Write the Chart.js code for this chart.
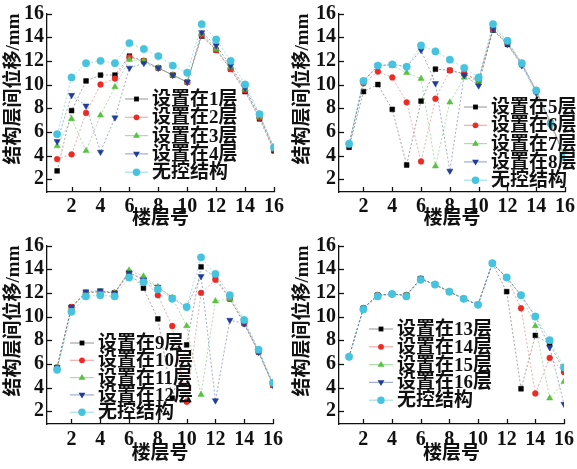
<!DOCTYPE html>
<html><head><meta charset="utf-8">
<script src="https://cdn.jsdelivr.net/npm/chart.js@4/dist/chart.umd.min.js"></script>
<style>
html,body{margin:0;padding:0;background:#fff;overflow:hidden;width:577px;height:469px;}
.p{position:absolute;}
</style></head><body>
<div class="p" style="left:0;top:0;width:288px;height:232px"><canvas id="c1" width="288" height="232"></canvas></div>
<div class="p" style="left:289px;top:0;width:290px;height:232px"><canvas id="c2" width="290" height="232"></canvas></div>
<div class="p" style="left:0;top:232px;width:288px;height:237px"><canvas id="c3" width="288" height="237"></canvas></div>
<div class="p" style="left:289px;top:232px;width:290px;height:237px"><canvas id="c4" width="290" height="237"></canvas></div>
<script>
// ---------- data ----------
const floors = [1,2,3,4,5,6,7,8,9,10,11,12,13,14,15,16];
const xTicks = [2,4,6,8,10,12,14,16];
const yTicks = [2,4,6,8,10,12,14,16];
const xTitle = '楼层号';
const yTitle = '结构层间位移/mm';
const noneLabel = '无控结构';

const p1Labels = ['设置在1层','设置在2层','设置在3层','设置在4层'];
const p1_layer1 = [2.7,7.8,10.3,10.8,10.8,12.4,12.0,11.4,10.8,10.2,14.1,12.9,11.3,9.4,7.1,4.4];
const p1_layer2 = [3.7,4.1,7.6,10.0,10.5,12.3,12.0,11.4,10.8,10.2,14.2,12.9,11.3,9.5,7.2,4.5];
const p1_layer3 = [4.8,7.1,4.4,7.4,9.8,12.1,12.0,11.4,10.8,10.2,14.3,13.0,11.5,9.6,7.3,4.6];
const p1_layer4 = [5.2,9.1,8.2,4.3,7.2,11.4,11.8,11.4,10.8,10.2,14.4,13.3,11.6,9.7,7.4,4.6];
const p1_none   = [5.8,10.6,11.8,12.0,11.8,13.5,13.0,12.4,11.6,11.0,15.1,13.8,12.0,10.0,7.5,4.7];

const p2Labels = ['设置在5层','设置在6层','设置在7层','设置在8层'];
const p2_layer5 = [4.7,9.4,10.0,7.9,3.2,8.6,11.3,11.2,10.9,10.3,14.6,13.4,11.7,9.4,6.8,3.8];
const p2_layer6 = [4.9,10.1,11.1,10.6,8.5,3.5,8.8,11.2,10.9,10.4,14.7,13.5,11.8,9.5,6.8,3.9];
const p2_layer7 = [4.9,10.2,11.6,11.6,11.0,10.5,3.1,8.5,10.6,10.3,14.9,13.6,11.8,9.5,6.8,3.9];
const p2_layer8 = [4.9,10.3,11.6,11.7,11.5,12.9,10.1,2.7,10.8,9.9,14.7,13.4,11.6,9.3,6.6,3.8];
const p2_none   = [5.0,10.3,11.6,11.7,11.5,13.3,12.8,12.1,11.4,10.6,15.1,13.7,11.8,9.5,6.7,3.9];

const p3Labels = ['设置在9层','设置在10层','设置在11层','设置在12层'];
const p3_layer9  = [5.7,10.8,12.0,12.1,12.0,13.7,12.4,9.8,3.1,7.6,14.2,13.3,11.5,9.4,7.0,4.2];
const p3_layer10 = [5.7,10.8,12.0,12.1,12.0,13.7,13.2,11.8,9.2,2.8,12.0,13.1,11.5,9.4,7.0,4.2];
const p3_layer11 = [5.7,10.7,12.0,12.1,12.0,13.9,13.4,12.5,11.6,9.2,3.4,11.3,11.5,9.6,7.1,4.3];
const p3_layer12 = [5.7,10.8,12.1,12.2,12.0,13.7,13.1,12.5,11.6,10.8,13.4,2.9,9.7,9.4,7.0,4.2];
const p3_none    = [5.5,10.4,11.7,11.8,11.7,13.3,12.9,12.3,11.5,10.8,15.0,13.6,11.8,9.7,7.2,4.4];

const p4Labels = ['设置在13层','设置在14层','设置在15层','设置在16层'];
const p4_layer13 = [6.6,10.7,11.8,11.9,11.8,13.2,12.7,12.1,11.5,11.0,14.5,12.1,3.9,8.4,7.7,5.4];
const p4_layer14 = [6.6,10.7,11.8,11.9,11.8,13.2,12.7,12.1,11.5,11.0,14.5,13.3,10.7,3.5,6.5,5.3];
const p4_layer15 = [6.6,10.7,11.8,11.9,11.8,13.2,12.7,12.1,11.5,11.0,14.5,13.3,11.8,9.2,3.1,4.5];
const p4_layer16 = [6.6,10.7,11.8,11.9,11.8,13.2,12.7,12.1,11.5,11.0,14.5,13.3,11.8,10.0,7.4,2.6];
const p4_none    = [6.6,10.6,11.7,11.9,11.7,13.1,12.7,12.1,11.5,11.0,14.5,13.3,11.8,10.0,8.0,5.7];

// ---------- styles ----------
const STY = [
  {c:'#000000', l:'rgba(90,90,90,0.55)',  ps:'rect',     r:3.4, rot:0},
  {c:'#ee2a24', l:'rgba(230,90,90,0.5)',  ps:'circle',   r:2.9, rot:0},
  {c:'#56c23e', l:'rgba(90,190,90,0.5)',  ps:'triangle', r:3.6, rot:0},
  {c:'#1f3c98', l:'rgba(70,90,160,0.5)',  ps:'triangle', r:3.6, rot:180},
  {c:'#45c3df', l:'rgba(80,190,220,0.5)', ps:'circle',   r:3.7, rot:0}
];
const FONT_FAM = '"Liberation Serif","Noto Sans CJK SC",serif';

function drawMarker(ctx, s, x, y){
  ctx.save();
  ctx.fillStyle = s.c; ctx.strokeStyle = s.c; ctx.lineWidth = 1;
  ctx.beginPath();
  if (s.ps === 'rect') {
    const h = s.r * Math.SQRT1_2;
    ctx.rect(x-h, y-h, 2*h, 2*h);
  } else if (s.ps === 'circle') {
    ctx.arc(x, y, s.r, 0, Math.PI*2);
  } else {
    const r = s.r, sgn = s.rot ? -1 : 1;
    ctx.moveTo(x, y - sgn*r);
    ctx.lineTo(x + r*0.95, y + sgn*r*0.62);
    ctx.lineTo(x - r*0.95, y + sgn*r*0.62);
    ctx.closePath();
  }
  ctx.fill();
  ctx.restore();
}

const inwardTicks = {
  id:'inwardTicks',
  afterDraw(chart){
    const {ctx, chartArea, scales} = chart;
    ctx.save(); ctx.strokeStyle = '#111'; ctx.lineWidth = 1.3;
    scales.x.ticks.forEach(t => {
      const px = Math.round(scales.x.getPixelForValue(t.value)) + 0.5;
      ctx.beginPath(); ctx.moveTo(px, chartArea.bottom); ctx.lineTo(px, chartArea.bottom - 5); ctx.stroke();
    });
    scales.y.ticks.forEach(t => {
      const py = Math.round(scales.y.getPixelForValue(t.value)) + 0.5;
      ctx.beginPath(); ctx.moveTo(chartArea.left, py); ctx.lineTo(chartArea.left + 5, py); ctx.stroke();
    });
    ctx.restore();
  }
};

function makeLegend(pos){
  return {
    id:'panelLegend',
    afterDatasetsDraw(chart){
      const ctx = chart.ctx;
      ctx.save();
      chart.data.datasets.forEach((ds, i) => {
        const s = STY[i];
        const y = pos.y + i*pos.dy;
        ctx.strokeStyle = s.l; ctx.lineWidth = 1.2; ctx.setLineDash([]);
        ctx.beginPath(); ctx.moveTo(pos.x, y); ctx.lineTo(pos.x + pos.len, y); ctx.stroke();
        drawMarker(ctx, s, pos.x + pos.len/2, y);
        ctx.fillStyle = '#111';
        ctx.font = 'bold 19px ' + FONT_FAM;
        ctx.textBaseline = 'middle'; ctx.textAlign = 'left';
        ctx.fillText(ds.label, pos.x + pos.len + 4, y + 1);
      });
      ctx.restore();
    }
  };
}

function makeChart(id, labels, series, none, layout, legendPos){
  const allLabels = labels.concat([noneLabel]);
  const allData = series.concat([none]);
  const datasets = allData.map((d, i) => ({
    label: allLabels[i],
    data: floors.map((f, k) => ({x: f, y: d[k]})),
    borderColor: STY[i].l,
    backgroundColor: STY[i].c,
    pointBackgroundColor: STY[i].c,
    pointBorderColor: STY[i].c,
    pointStyle: STY[i].ps,
    pointRotation: STY[i].rot,
    pointRadius: STY[i].r,
    pointBorderWidth: 0.5,
    borderWidth: 1,
    borderDash: [2,2],
    order: 4 - i,
    tension: 0
  }));
  return new Chart(document.getElementById(id), {
    type:'line',
    data:{datasets},
    plugins:[inwardTicks, makeLegend(legendPos)],
    options:{
      responsive:false, animation:false, devicePixelRatio:1,
      layout:{padding:{left:0, right:layout.right, top:layout.top, bottom:layout.bottom}},
      plugins:{legend:{display:false}, tooltip:{enabled:false}},
      scales:{
        x:{
          type:'linear', min:0.3, max:16,
          afterBuildTicks: sc => { sc.ticks = xTicks.map(v => ({value:v})); },
          afterFit: sc => { sc.height = layout.xh; },
          grid:{display:true, drawOnChartArea:false, drawTicks:false},
          border:{display:true, color:'#111', width:1.3},
          ticks:{color:'#111', padding:layout.xpad, font:{family:FONT_FAM, size:20, weight:'bold', lineHeight:1.05}},
          title:{display:true, text:xTitle, color:'#111', padding:{top:0,bottom:layout.xtb}, font:{family:FONT_FAM, size:19, weight:'bold'}}
        },
        y:{
          type:'linear', min:0.92, max:16,
          afterBuildTicks: sc => { sc.ticks = yTicks.map(v => ({value:v})); },
          afterFit: sc => { sc.width = layout.left; },
          grid:{display:true, drawOnChartArea:false, drawTicks:false},
          border:{display:true, color:'#111', width:1.3},
          ticks:{color:'#111', padding:3, font:{family:FONT_FAM, size:20, weight:'bold', lineHeight:1.05}},
          title:{display:true, text:yTitle, align:'end', color:'#111', padding:{top:3,bottom:0}, font:{family:FONT_FAM, size:19, weight:'bold'}}
        }
      }
    }
  });
}

makeChart('c1', p1Labels, [p1_layer1,p1_layer2,p1_layer3,p1_layer4], p1_none,
  {left:47, right:12, top:11, bottom:0, xh:40, xpad:4, xtb:2},
  {x:125, y:99, dy:18.3, len:23});
makeChart('c2', p2Labels, [p2_layer5,p2_layer6,p2_layer7,p2_layer8], p2_none,
  {left:50, right:10, top:11, bottom:0, xh:40, xpad:4, xtb:2},
  {x:175, y:107, dy:18.3, len:23});
makeChart('c3', p3Labels, [p3_layer9,p3_layer10,p3_layer11,p3_layer12], p3_none,
  {left:47, right:11, top:11, bottom:0, xh:45, xpad:5, xtb:4},
  {x:70, y:111, dy:17.3, len:24});
makeChart('c4', p4Labels, [p4_layer13,p4_layer14,p4_layer15,p4_layer16], p4_none,
  {left:50, right:9, top:11, bottom:0, xh:45, xpad:5, xtb:4},
  {x:80, y:97, dy:17.8, len:24});
</script>
</body></html>
